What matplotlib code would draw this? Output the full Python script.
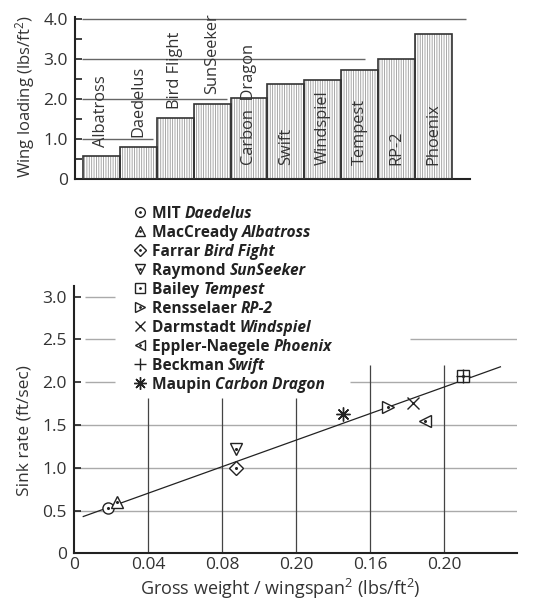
import matplotlib
matplotlib.use("Agg")
import matplotlib.pyplot as plt

plt.rcParams['font.family'] = ['Open Sans', 'DejaVu Sans']
plt.rcParams['mathtext.fontset'] = 'custom'
plt.rcParams['mathtext.rm'] = 'Open Sans'
plt.rcParams['mathtext.it'] = 'Open Sans:italic'
plt.rcParams['mathtext.bf'] = 'Open Sans:bold'
plt.rcParams['hatch.linewidth'] = 0.6

# wing loading per plane (top chart)
planes = ['Albatross', 'Daedelus', 'Bird Flight', 'SunSeeker', 'Carbon  Dragon',
          'Swift', 'Windspiel', 'Tempest', 'RP-2', 'Phoenix']
wing_loading = [0.57, 0.80, 1.52, 1.88, 2.03, 2.38, 2.48, 2.72, 2.99, 3.62]

# sink rate vs gross weight / wingspan^2 (bottom chart)
designers = ['MIT', 'MacCready', 'Farrar', 'Raymond', 'Bailey', 'Rensselaer',
             'Darmstadt', 'Eppler-Naegele', 'Beckman', 'Maupin']
aircraft = ['Daedelus', 'Albatross', 'Bird Fight', 'SunSeeker', 'Tempest', 'RP-2',
            'Windspiel', 'Phoenix', 'Swift', 'Carbon Dragon']
gw_span2 = [0.0182, 0.0230, 0.0873, 0.0873, 0.2101, 0.1697, 0.1829, 0.1895, 0.2101, 0.1454]
sink_rate = [0.534, 0.596, 0.993, 1.220, 2.072, 1.706, 1.761, 1.547, 2.072, 1.624]
fit_x = [0.005, 0.2303]
fit_y = [0.43, 2.18]
x_ticks = [0, 0.04, 0.08, 0.12, 0.16, 0.20]
x_ticklabels = ['0', '0.04', '0.08', '0.20', '0.16', '0.20']

markers = ['o', '^', 'D', 'v', 's', '>', 'x', '<', '+', (8, 2, 0)]
msizes = [7, 7, 6, 7, 7, 7, 7, 7, 9, 9]
dotted = [True, True, True, True, True, True, False, True, False, False]

ink = '#222222'
txt = '#333333'
W, H = 536, 600
fig = plt.figure(figsize=(W / 100, H / 100), dpi=100, facecolor='white')

# ---------------- top chart ----------------
ax1 = fig.add_axes([75 / W, 1 - 179 / H, 395 / W, 162 / H])
xs = list(range(len(planes)))
ax1.bar(xs, wing_loading, width=1, align='edge', color='white',
        edgecolor='#9a9a9a', hatch='|' * 7, linewidth=0, zorder=2)
ax1.bar(xs, wing_loading, width=1, align='edge', fill=False,
        edgecolor='#333333', linewidth=1.2, zorder=3)
ax1.hlines([1, 2, 3, 4], -0.03, [1.9, 3.9, 7.64, 10.38], color='#666666', lw=1, zorder=1)
for i, (name, h) in enumerate(zip(planes, wing_loading)):
    y0 = 0.35 if h >= 2 else h + 0.24
    ax1.text(i + 0.5, y0, name, rotation=90, ha='center', va='bottom',
             fontsize=11.8, color=txt, zorder=4)
ax1.set_xlim(-0.217, 10.49)
ax1.set_ylim(0, 4.05)
ax1.set_xticks([])
ax1.set_yticks([0, 1, 2, 3, 4])
ax1.set_yticklabels(['0', '1.0', '2.0', '3.0', '4.0'])
ax1.set_yticks([0.5, 1.5, 2.5, 3.5], minor=True)
ax1.tick_params(axis='y', which='both', direction='in', length=5, width=1.2,
                color=ink, labelsize=12.5, labelcolor=txt, pad=5)
for s in ['top', 'right']:
    ax1.spines[s].set_visible(False)
for s in ['left', 'bottom']:
    ax1.spines[s].set_linewidth(1.5)
    ax1.spines[s].set_color(ink)
fig.text(25 / W, 1 - 97 / H, r'Wing loading (lbs/ft$^{2}$)', rotation=90,
         ha='center', va='center', fontsize=12, color=txt)

# ---------------- bottom chart ----------------
ax2 = fig.add_axes([74 / W, 1 - 553.3 / H, 442.7 / W, 266.9 / H])
ax2.set_xlim(0, 0.2391)
ax2.set_ylim(0, 3.12)
# partial grid lines (broken by the legend)
ax2.hlines([0.5, 1.0, 1.5], 0, 0.2391, color='#aaaaaa', lw=1, zorder=1)
ax2.hlines([2.0, 2.5, 3.0], 0.006, 0.0222, color='#aaaaaa', lw=1, zorder=1)
ax2.hlines([2.0, 2.5], [0.1492, 0.1816], 0.2391, color='#aaaaaa', lw=1, zorder=1)
ax2.vlines(x_ticks[1:], 0, [1.81, 1.81, 1.81, 2.2, 2.2], color='#444444', lw=0.9, zorder=1)
ax2.plot(fit_x, fit_y, color=ink, lw=0.9, zorder=2)
for i in range(len(designers)):
    ax2.plot(gw_span2[i], sink_rate[i], linestyle='none', marker=markers[i],
             ms=msizes[i] + 1, mfc='white', mec=ink, mew=1.0, zorder=3)
    if dotted[i]:
        ax2.plot(gw_span2[i], sink_rate[i], 'o', ms=1.2, color=ink, zorder=4)
ax2.set_xticks(x_ticks)
ax2.set_xticklabels(x_ticklabels)
ax2.set_yticks([0, 0.5, 1.0, 1.5, 2.0, 2.5, 3.0])
ax2.set_yticklabels(['0', '0.5', '1.0', '1.5', '2.0', '2.5', '3.0'])
ax2.tick_params(axis='y', direction='in', length=5, width=1.2, color=ink,
                labelsize=12.5, labelcolor=txt, pad=5)
ax2.tick_params(axis='x', length=0, labelsize=12.5, labelcolor=txt, pad=3)
for s in ['top', 'right']:
    ax2.spines[s].set_visible(False)
for s in ['left', 'bottom']:
    ax2.spines[s].set_linewidth(1.5)
    ax2.spines[s].set_color(ink)
fig.text(25 / W, 1 - 431 / H, 'Sink rate (ft/sec)', rotation=90,
         ha='center', va='center', fontsize=12.5, color=txt)
fig.text(280 / W, 1 - 589 / H, r'Gross weight / wingspan$^{2}$ (lbs/ft$^{2}$)',
         ha='center', va='center', fontsize=13, color=txt)

# ---------------- legend (drawn by hand, pixel coords) ----------------
leg = fig.add_axes([0, 0, 1, 1], zorder=5)
leg.set_xlim(0, W)
leg.set_ylim(H, 0)
leg.axis('off')
renderer = fig.canvas.get_renderer()
for i in range(len(designers)):
    y = 212 + 19 * i
    leg.plot(140, y, linestyle='none', marker=markers[i], ms=msizes[i],
             mfc='white', mec=ink, mew=1.0)
    if dotted[i]:
        leg.plot(140, y, 'o', ms=1.0, color=ink)
    t = leg.text(152, y, designers[i] + ' ', ha='left', va='center_baseline',
                 fontsize=11.2, fontweight='bold', color=ink)
    bb = t.get_window_extent(renderer)
    leg.text(152 + bb.width, y, aircraft[i], ha='left', va='center_baseline',
             fontsize=11.2, fontweight='bold', fontstyle='italic', color=ink)

fig.savefig('out.png', dpi=100, facecolor='white')
